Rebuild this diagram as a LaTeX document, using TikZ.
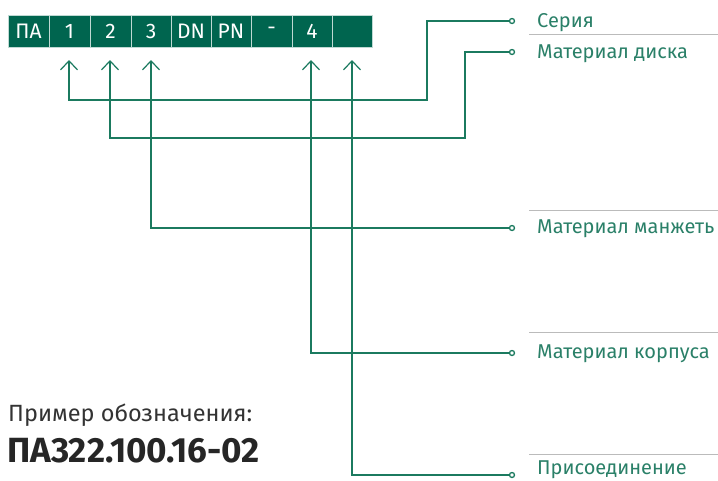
\documentclass[tikz,border=0pt]{standalone}
\usepackage{fontspec}
\setmainfont{Fira Sans}
\usetikzlibrary{arrows.meta}
\definecolor{boxgreen}{HTML}{00654F}
\definecolor{linegreen}{HTML}{1B7A5F}
\definecolor{labelgreen}{HTML}{2A8068}
\definecolor{rulegray}{HTML}{BBBBBB}
\definecolor{textgray}{HTML}{333333}
\begin{document}
\begin{tikzpicture}[x=1pt,y=-1pt,
  cell/.style={draw=white!75!boxgreen,line width=0.8pt,fill=boxgreen,minimum height=32pt,inner sep=0pt,text=white,font=\fontsize{21}{21}\selectfont},
  conn/.style={draw=linegreen,line width=1.3pt},
  arr/.style={conn,{Straight Barb[length=9pt,width=17pt,line width=1.2pt]}-},
  dot/.style={circle,draw=linegreen,line width=1.3pt,fill=white,minimum size=5pt,inner sep=0pt},
  lbl/.style={anchor=base west,text=labelgreen,inner sep=0pt,font=\fontsize{20}{20}\selectfont},
  rule/.style={draw=rulegray,line width=1pt}]
\useasboundingbox (0,0) rectangle (718,480);
% cells
\node[cell,minimum width=41pt] (cPA) at (28.5,31) {ПА};
\node[cell,minimum width=41pt] (c1) at (69.5,31) {1};
\node[cell,minimum width=41pt] (c2) at (110.5,31) {2};
\node[cell,minimum width=40pt] (c3) at (151,31) {3};
\node[cell,minimum width=40pt] (cDN) at (191,31) {DN};
\node[cell,minimum width=40pt] (cPN) at (231,31) {PN};
\node[cell,minimum width=41pt] (cM) at (271.5,31) {-};
\node[cell,minimum width=40pt] (c4) at (312,31) {4};
\node[cell,minimum width=40pt] (c5) at (352,31) {};
% tips
\coordinate (t1) at (69,60);
\coordinate (t2) at (110,60);
\coordinate (t3) at (151,60);
\coordinate (t4) at (311,60);
\coordinate (t5) at (352,60);
% junctions
\coordinate (j1) at (427,100);
\coordinate (j2) at (465,138);
% dots
\node[dot] (d1) at (512,21) {};
\node[dot] (d2) at (512,52) {};
\node[dot] (d3) at (512,228) {};
\node[dot] (d4) at (512,353) {};
\node[dot] (d5) at (512,475) {};
% connectors
\draw[arr] (t1) |- (j1) |- (d1.west);
\draw[arr] (t2) |- (j2) |- (d2.west);
\draw[arr] (t3) |- (d3.west);
\draw[arr] (t4) |- (d4.west);
\draw[arr] (t5) |- (d5.west);
% rules
\coordinate (r1a) at (529,34); \coordinate (r1b) at (718,34);
\coordinate (r3a) at (529,210); \coordinate (r3b) at (718,210);
\coordinate (r4a) at (529,332); \coordinate (r4b) at (718,332);
\coordinate (r5a) at (529,454); \coordinate (r5b) at (718,454);
\draw[rule] (r1a) -- (r1b);
\draw[rule] (r3a) -- (r3b);
\draw[rule] (r4a) -- (r4b);
\draw[rule] (r5a) -- (r5b);
% labels
\node[lbl] (l1) at (537,27) {Серия};
\node[lbl] (l2) at (537,58) {Материал диска};
\node[lbl] (l3) at (537,233) {Материал манжеть};
\node[lbl] (l4) at (537,358) {Материал корпуса};
\node[lbl] (l5) at (537,474) {Присоединение};
% example
\node[anchor=base west,inner sep=0pt,text=textgray,font=\fontsize{23.5}{23.5}\selectfont] (ex1) at (8,421) {Пример обозначения:};
\node[anchor=base west,inner sep=0pt,text=black!85,font=\fontsize{35}{35}\selectfont\bfseries] (ex2) at (7,462) {ПА322.100.16-02};
\end{tikzpicture}
\end{document}
